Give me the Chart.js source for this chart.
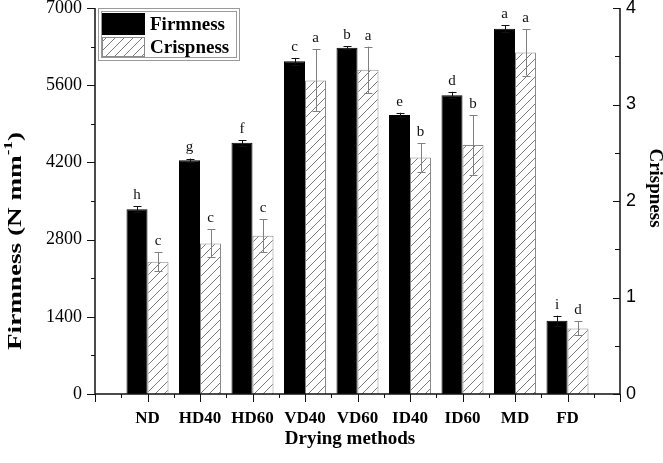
<!DOCTYPE html>
<html>
<head>
<meta charset="utf-8">
<script src="https://cdn.jsdelivr.net/npm/chart.js@4"></script>
<style>
  body { margin: 0; background: #fff; }
  canvas { display: block; }
</style>
</head>
<body>
<canvas id="chart" width="663" height="463"></canvas>
<script>
const methods = ["ND", "HD40", "HD60", "VD40", "VD60", "ID40", "ID60", "MD", "FD"];
const firmness = [3350, 4240, 4555, 6035, 6280, 5060, 5420, 6625, 1330];
const firmnessSd = [55, 30, 50, 60, 30, 40, 60, 65, 90];
const crispness = [1.37, 1.56, 1.64, 3.25, 3.36, 2.45, 2.58, 3.54, 0.68];
const crispnessSd = [0.10, 0.145, 0.17, 0.32, 0.24, 0.147, 0.31, 0.24, 0.073];
const firmnessLetters = ["h", "g", "f", "c", "b", "e", "d", "a", "i"];
const crispnessLetters = ["c", "c", "c", "a", "a", "b", "b", "a", "d"];

const serif = '"Liberation Serif", "Times New Roman", serif';
const sans = '"Liberation Sans", Arial, sans-serif';

// hatch pattern "/" for crispness bars
function makeHatch() {
    const s = 9;
    const c = document.createElement("canvas");
    c.width = s; c.height = s;
    const g = c.getContext("2d");
    g.fillStyle = "#fff";
    g.fillRect(0, 0, s, s);
    g.strokeStyle = "#7a7a7a";
    g.lineWidth = 1;
    g.beginPath();
    g.moveTo(0, s); g.lineTo(s, 0);
    g.moveTo(-1, 1); g.lineTo(1, -1);
    g.moveTo(s - 1, s + 1); g.lineTo(s + 1, s - 1);
    g.stroke();
    return g.createPattern(c, "repeat");
}
const hatch = makeHatch();

function drawErrors(chart, index, values, sds, letters, scale, color) {
    const ctx = chart.ctx;
    const meta = chart.getDatasetMeta(index);
    ctx.strokeStyle = color;
    ctx.lineWidth = 1;
    meta.data.forEach((bar, i) => {
        const top = scale.getPixelForValue(values[i] + sds[i]);
        const bot = scale.getPixelForValue(values[i] - sds[i]);
        const cx = Math.round(bar.x) + 0.5;
        ctx.beginPath();
        ctx.moveTo(cx, top); ctx.lineTo(cx, bot);
        ctx.moveTo(cx - 4, Math.round(top) + 0.5); ctx.lineTo(cx + 4, Math.round(top) + 0.5);
        ctx.moveTo(cx - 4, Math.round(bot) + 0.5); ctx.lineTo(cx + 4, Math.round(bot) + 0.5);
        ctx.stroke();
        ctx.fillStyle = "#111";
        ctx.font = "15px " + serif;
        ctx.textAlign = "center";
        ctx.textBaseline = "middle";
        ctx.fillText(letters[i], bar.x, top - 11);
    });
}

const overlay = {
    id: "overlay",
    afterDatasetsDraw(chart) {
        const { ctx, chartArea: a, scales: { x, y, y1 } } = chart;
        ctx.save();
        drawErrors(chart, 0, firmness, firmnessSd, firmnessLetters, y, "#111");
        drawErrors(chart, 1, crispness, crispnessSd, crispnessLetters, y1, "#808080");

        // axis lines
        ctx.strokeStyle = "#111";
        ctx.lineWidth = 1.5;
        ctx.beginPath();
        ctx.moveTo(a.left, a.top); ctx.lineTo(a.left, a.bottom);
        ctx.lineTo(a.right, a.bottom); ctx.lineTo(a.right, a.top);
        ctx.stroke();

        // tick marks
        ctx.lineWidth = 1;
        ctx.beginPath();
        for (let v = 0; v <= 7000; v += 700) {
            const py = Math.round(y.getPixelForValue(v)) + 0.5;
            ctx.moveTo(a.left, py); ctx.lineTo(a.left - (v % 1400 === 0 ? 8 : 4), py);
        }
        for (let v = 0; v <= 4; v += 0.5) {
            const py = Math.round(y1.getPixelForValue(v)) + 0.5;
            ctx.moveTo(a.right, py); ctx.lineTo(a.right - (v % 1 === 0 ? 7 : 5), py);
        }
        for (let v = -1; v <= 9; v += 0.5) {
            const px = Math.round(x.getPixelForValue(v)) + 0.5;
            ctx.moveTo(px, a.bottom); ctx.lineTo(px, a.bottom + (v % 1 === 0 ? 8 : 4));
        }
        ctx.stroke();

        // legend
        ctx.strokeStyle = "#9a9a9a";
        ctx.strokeRect(98.5, 8.5, 141, 52);
        ctx.strokeRect(101.5, 11.5, 135, 46);
        ctx.fillStyle = "#000";
        ctx.fillRect(102, 13, 43, 22);
        ctx.fillStyle = hatch;
        ctx.fillRect(102, 37, 43, 20);
        ctx.strokeStyle = "#8a8a8a";
        ctx.strokeRect(102.5, 37.5, 42, 19);
        ctx.fillStyle = "#000";
        ctx.font = "bold 19px " + serif;
        ctx.textAlign = "left";
        ctx.textBaseline = "middle";
        ctx.fillText("Firmness", 150, 25);
        ctx.fillText("Crispness", 150, 48);

        // x title
        ctx.textAlign = "center";
        ctx.fillText("Drying methods", 350, 439);

        // right title
        ctx.save();
        ctx.translate(655, 188);
        ctx.rotate(Math.PI / 2);
        ctx.fillText("Crispness", 0, 0);
        ctx.restore();

        // left title with superscript
        ctx.save();
        ctx.translate(16, 241);
        ctx.rotate(-Math.PI / 2);
        const main = "Firmness (N mm";
        const big = "bold 19px " + serif, small = "bold 12px " + serif;
        ctx.font = big;
        const w1 = ctx.measureText(main).width;
        const w3 = ctx.measureText(")").width;
        ctx.font = small;
        const w2 = ctx.measureText("-1").width;
        const total = w1 + w2 + w3;
        ctx.scale(218 / total, 1);
        let px = -total / 2;
        ctx.textAlign = "left";
        ctx.font = big;
        ctx.fillText(main, px, 0);
        ctx.font = small;
        ctx.fillText("-1", px + w1, -7);
        ctx.font = big;
        ctx.fillText(")", px + w1 + w2, 0);
        ctx.restore();

        ctx.restore();
    }
};

new Chart(document.getElementById("chart"), {
    type: "bar",
    data: {
        datasets: [
            {
                label: "Firmness",
                data: methods.map((m, i) => ({ x: i, y: firmness[i] })),
                yAxisID: "y",
                backgroundColor: "#000",
                borderColor: "#000",
                borderWidth: 1
            },
            {
                label: "Crispness",
                data: methods.map((m, i) => ({ x: i, y: crispness[i] })),
                yAxisID: "y1",
                backgroundColor: hatch,
                borderColor: "#8a8a8a",
                borderWidth: 1
            }
        ]
    },
    options: {
        responsive: false,
        animation: false,
        devicePixelRatio: 1,
        layout: { padding: { top: 8, left: 0, right: 0, bottom: 0 } },
        datasets: { bar: { categoryPercentage: 0.8, barPercentage: 1 } },
        plugins: { legend: { display: false }, tooltip: { enabled: false } },
        scales: {
            x: {
                type: "linear",
                min: -1,
                max: 9,
                offset: false,
                grid: { display: false, drawTicks: true, tickLength: 8 },
                border: { display: false },
                ticks: {
                    stepSize: 1,
                    autoSkip: false,
                    maxRotation: 0,
                    padding: 6,
                    color: "#000",
                    font: { family: serif, size: 17, weight: "bold" },
                    callback: v => methods[v] ?? ""
                },
                afterFit: s => { s.height = 69; s.paddingLeft = 0; s.paddingRight = 0; }
            },
            y: {
                position: "left",
                min: 0,
                max: 7000,
                grid: { display: false, drawTicks: true, tickLength: 8 },
                border: { display: false },
                ticks: {
                    stepSize: 1400,
                    padding: 5,
                    color: "#000",
                    font: { family: serif, size: 18 },
                    callback: v => String(v)
                },
                afterFit: s => { s.width = 95; s.paddingTop = 0; s.paddingBottom = 0; }
            },
            y1: {
                position: "right",
                min: 0,
                max: 4,
                grid: { display: false, drawTicks: false },
                border: { display: false },
                ticks: { stepSize: 1, padding: 6, color: "#000", font: { family: sans, size: 18 } },
                afterFit: s => { s.width = 43; s.paddingTop = 0; s.paddingBottom = 0; }
            }
        }
    },
    plugins: [overlay]
});
</script>
</body>
</html>
